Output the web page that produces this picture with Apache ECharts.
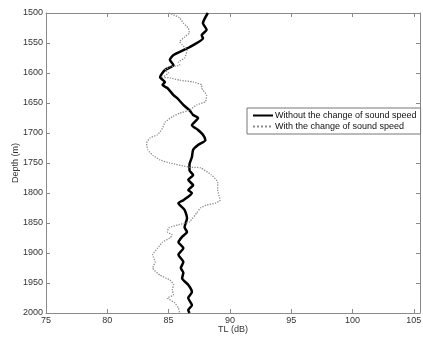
<!DOCTYPE html>
<html><head><meta charset="utf-8">
<script src="https://cdn.jsdelivr.net/npm/echarts@6/dist/echarts.min.js"></script>
<style>html,body{margin:0;padding:0;background:#fff}#c{width:423px;height:337px}</style>
</head><body><div id="c"></div>
<script>
var solidDepth = [1500,1517,1528,1537,1542,1557,1562,1570,1578,1587,1595,1607,1615,1620,1625,1637,1642,1653,1662,1670,1675,1687,1695,1703,1712,1720,1728,1740,1753,1762,1770,1778,1787,1795,1800,1812,1817,1828,1842,1857,1865,1873,1882,1892,1903,1915,1925,1933,1942,1953,1965,1975,1987,1995,2000];
var solidTL = [88.2,87.8,88.1,87.7,87.8,86.7,86.2,85.4,85.1,85.4,84.7,84.3,84.7,84.5,84.9,85.4,85.7,86.2,86.7,87.0,87.4,86.9,87.4,87.8,88.0,87.4,87.0,86.9,86.7,86.7,87.0,86.6,87.0,86.6,86.9,86.2,85.8,86.3,86.5,86.3,86.5,86.1,85.8,86.2,85.8,86.2,86.0,86.2,86.1,86.6,86.9,86.6,86.9,86.6,86.7];
var dotDepth = [1500,1503,1508,1517,1525,1533,1540,1548,1553,1562,1575,1582,1587,1590,1595,1600,1607,1608,1612,1615,1620,1625,1637,1648,1653,1662,1667,1673,1682,1692,1703,1708,1717,1728,1737,1745,1750,1757,1758,1770,1782,1795,1812,1817,1820,1825,1833,1848,1853,1858,1865,1870,1875,1882,1892,1903,1915,1925,1937,1945,1953,1962,1970,1975,1983,1992,2000];
var dotTL = [85.0,85.4,85.9,86.2,86.6,86.7,86.3,85.9,86.1,86.5,86.3,85.8,85.9,85.1,84.7,85.0,84.5,85.1,85.9,87.0,87.7,87.7,88.1,88.0,87.3,86.7,85.9,85.3,84.7,84.5,84.1,83.5,83.2,83.3,83.7,84.3,85.1,86.7,87.6,88.5,89.0,89.0,89.2,88.8,88.1,87.6,87.3,86.7,85.8,85.0,84.9,85.3,85.1,84.5,84.1,83.7,83.9,83.7,84.3,85.1,85.4,85.3,85.4,84.9,85.5,85.8,85.9];
var xTicks = [75,80,85,90,95,100,105];
var yTicks = [1500,1550,1600,1650,1700,1750,1800,1850,1900,1950,2000];
var seriesNames = ['Without the change of sound speed','With the change of sound speed'];

function pairs(xs, ys){ return xs.map(function(v,i){ return [v, ys[i]]; }); }
var axisCol = '#8a8a8a';
var font = 'Liberation Sans, Arial, sans-serif';
var chart = echarts.init(document.getElementById('c'));
var baseX = {type:'value', min:75, max:105.5, interval:5,
  axisLine:{show:true,lineStyle:{color:axisCol,width:1}},
  axisTick:{show:true,inside:true,length:4,lineStyle:{color:axisCol}},
  splitLine:{show:false}};
var baseY = {type:'value', min:1500, max:2000, interval:50, inverse:true,
  axisLine:{show:true,lineStyle:{color:axisCol,width:1}},
  axisTick:{show:true,inside:true,length:4,lineStyle:{color:axisCol}},
  splitLine:{show:false}};
chart.setOption({
  backgroundColor:'#fff',
  animation:false,
  grid:{left:46,right:3,top:13,bottom:24,containLabel:false,outerBoundsMode:'none'},
  legend:{
    orient:'vertical', left:247, top:108,
    data:seriesNames,
    backgroundColor:'#fff', borderColor:'#777', borderWidth:1,
    padding:[3,4,3,5], itemGap:2, itemWidth:20, itemHeight:8,
    itemStyle:{opacity:0},
    textStyle:{fontFamily:font,fontSize:9,color:'#111',padding:[0,0,0,-3]}
  },
  xAxis:[
    Object.assign({}, baseX, {position:'bottom',
      name:'TL (dB)', nameLocation:'middle', nameGap:12, nameMoveOverlap:false,
      nameTextStyle:{fontFamily:font,fontSize:9,color:'#333'},
      axisLabel:{fontFamily:font,fontSize:9,color:'#333',margin:3,
        formatter:function(v){return xTicks.indexOf(v)>=0? String(v):'';}}}),
    Object.assign({}, baseX, {position:'top', axisLabel:{show:false}})
  ],
  yAxis:[
    Object.assign({}, baseY, {position:'left',
      name:'Depth (m)', nameLocation:'middle', nameGap:26, nameMoveOverlap:false,
      nameTextStyle:{fontFamily:font,fontSize:9,color:'#333'},
      axisLabel:{fontFamily:font,fontSize:9,color:'#333',margin:3,
        formatter:function(v){return yTicks.indexOf(v)>=0? String(v):'';}}}),
    Object.assign({}, baseY, {position:'right', axisLabel:{show:false}})
  ],
  series:[
    {name:seriesNames[0], type:'line', data:pairs(solidTL, solidDepth),
     showSymbol:false, symbol:'none', smooth:0.2,
     lineStyle:{color:'#000',width:2.5}, itemStyle:{color:'#000'}},
    {name:seriesNames[1], type:'line', data:pairs(dotTL, dotDepth),
     showSymbol:false, symbol:'none', smooth:0.15,
     lineStyle:{color:'#8c8c8c',width:1.3,type:'dotted'}, itemStyle:{color:'#8c8c8c'}}
  ]
});
</script></body></html>
